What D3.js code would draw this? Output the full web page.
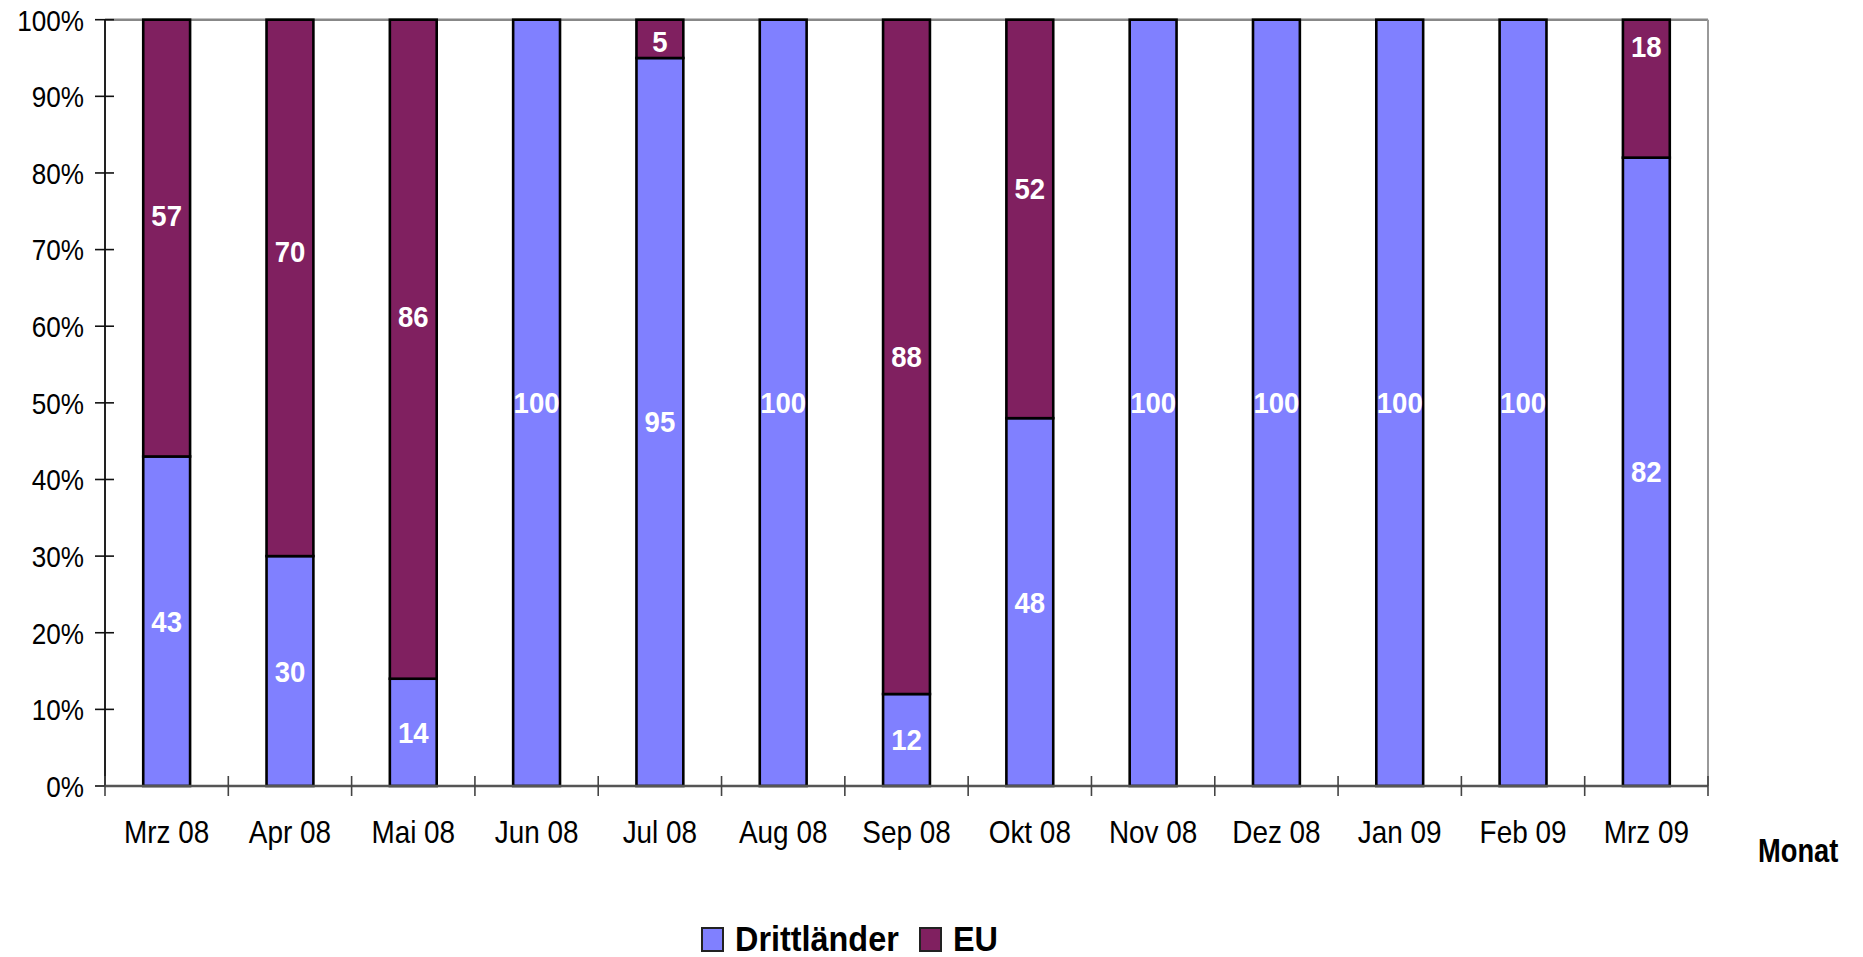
<!DOCTYPE html>
<html>
<head>
<meta charset="utf-8">
<script src="https://cdn.jsdelivr.net/npm/d3@7"></script>
<style>
  html, body { margin: 0; padding: 0; background: #fff; }
  svg { display: block; }
  text { font-family: "Liberation Sans", Arial, Helvetica, sans-serif; }
</style>
</head>
<body>
<script>
// ---- data ----
const months = ["Mrz 08","Apr 08","Mai 08","Jun 08","Jul 08","Aug 08","Sep 08","Okt 08","Nov 08","Dez 08","Jan 09","Feb 09","Mrz 09"];
const drittlaender = [43,30,14,100,95,100,12,48,100,100,100,100,82];
const eu = [57,70,86,0,5,0,88,52,0,0,0,0,18];
// where the EU value labels sit, in percent on the value axis
const euLabelAt = [74.4,69.7,61.2,null,97.1,null,56.0,78.0,null,null,null,null,96.5];
const yTicks = [0,10,20,30,40,50,60,70,80,90,100];
const seriesNames = ["Drittländer","EU"];
const seriesColors = ["#8080FF","#802060"];
const axisTitle = "Monat";

// ---- layout ----
const W = 1863, H = 957;
const L = 105, R = 1708, T = 19.7, B = 786;

const svg = d3.select("body").append("svg").attr("width", W).attr("height", H);

const x = d3.scaleBand().domain(months).range([L, R]).paddingInner(0.62).paddingOuter(0.31);
const y = d3.scaleLinear().domain([0, 100]).range([B, T]);

const rows = months.map((m, i) => ({ month: m, "Drittländer": drittlaender[i], "EU": eu[i] }));
const stack = d3.stack().keys(seriesNames)(rows);

function sText(g, px, py, str, size, sx, opts = {}) {
  return g.append("text")
    .attr("transform", `translate(${px},${py}) scale(${sx},1)`)
    .attr("text-anchor", opts.anchor || "middle")
    .attr("dy", opts.dy || null)
    .attr("font-size", size)
    .attr("font-weight", opts.bold ? "bold" : "normal")
    .attr("fill", opts.fill || "#000")
    .text(str);
}

// plot frame (top & right, grey)
svg.append("line").attr("x1", L).attr("x2", R).attr("y1", T).attr("y2", T)
  .attr("stroke", "#888").attr("stroke-width", 2.5);
svg.append("line").attr("x1", R).attr("x2", R).attr("y1", T).attr("y2", B)
  .attr("stroke", "#999").attr("stroke-width", 2);

// bars
const layers = svg.append("g").selectAll("g").data(stack).join("g")
  .attr("fill", (d, i) => seriesColors[i]);
layers.selectAll("rect").data(d => d.filter(s => s[1] - s[0] > 0)).join("rect")
  .attr("x", d => x(d.data.month))
  .attr("width", x.bandwidth())
  .attr("y", d => y(d[1]))
  .attr("height", d => y(d[0]) - y(d[1]))
  .attr("stroke", "#000")
  .attr("stroke-width", 2.6);

// axes
const yAxisG = svg.append("g");
yAxisG.append("line").attr("x1", L).attr("x2", L).attr("y1", T).attr("y2", B)
  .attr("stroke", "#222").attr("stroke-width", 2);
yTicks.forEach(t => {
  yAxisG.append("line").attr("x1", L - 10).attr("x2", L + 9).attr("y1", y(t)).attr("y2", y(t))
    .attr("stroke", "#111").attr("stroke-width", 1.6);
  sText(yAxisG, L - 21, y(t), t + "%", 30, 0.87, { anchor: "end", dy: "0.36em" });
});

const xAxisG = svg.append("g");
xAxisG.append("line").attr("x1", L).attr("x2", R).attr("y1", B).attr("y2", B)
  .attr("stroke", "#555").attr("stroke-width", 2.5);
const boundaries = months.map(m => x(m) - x.step() * x.paddingInner() / 2).concat([R]);
boundaries.forEach(bx => {
  xAxisG.append("line").attr("x1", bx).attr("x2", bx).attr("y1", B - 10).attr("y2", B + 10)
    .attr("stroke", "#444").attr("stroke-width", 1.6);
});
months.forEach(m => {
  sText(xAxisG, x(m) + x.bandwidth() / 2, 843, m, 31, 0.9);
});

// axis title
sText(svg, 1758, 862, axisTitle, 32.5, 0.84, { anchor: "start", bold: true });

// value labels
const lab = svg.append("g");
months.forEach((m, i) => {
  const cx = x(m) + x.bandwidth() / 2;
  if (drittlaender[i] > 0) {
    sText(lab, cx, y(drittlaender[i] / 2), drittlaender[i], 29, 0.95, { bold: true, fill: "#fff", dy: "0.36em" });
  }
  if (eu[i] > 0) {
    const at = euLabelAt[i] != null ? euLabelAt[i] : drittlaender[i] + eu[i] / 2;
    sText(lab, cx, y(at), eu[i], 29, 0.95, { bold: true, fill: "#fff", dy: "0.36em" });
  }
});

// legend
const leg = svg.append("g");
const legItems = [{ sq: 701, tx: 735 }, { sq: 919, tx: 953 }];
seriesNames.forEach((n, i) => {
  leg.append("rect").attr("x", legItems[i].sq + 1).attr("y", 928).attr("width", 21).attr("height", 23)
    .attr("fill", seriesColors[i]).attr("stroke", "#222").attr("stroke-width", 2);
  sText(leg, legItems[i].tx, 951, n, 36, 0.9, { anchor: "start", bold: true });
});
</script>
</body>
</html>
